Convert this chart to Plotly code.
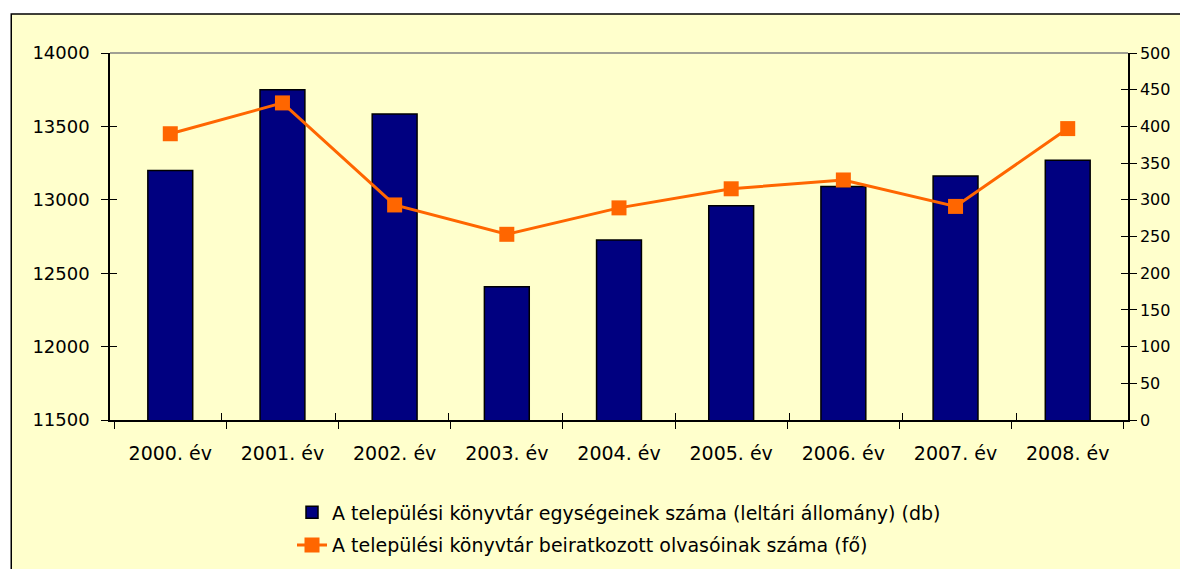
import plotly.graph_objects as go

# data
years = ["2000. év", "2001. év", "2002. év", "2003. év", "2004. év",
         "2005. év", "2006. év", "2007. év", "2008. év"]
stock = [13200, 13750, 13585, 12408, 12726, 12960, 13090, 13162, 13270]
readers = [390, 432, 293, 253, 289, 315, 327, 291, 397]

bar_name = "A települési könyvtár egységeinek száma (leltári állomány) (db)"
line_name = "A települési könyvtár beiratkozott olvasóinak száma (fő)"

bg = "#FFFFCC"
font = dict(family="DejaVu Sans", size=18, color="#000000")

fig = go.Figure()
fig.add_trace(go.Bar(
    x=years, y=stock, name=bar_name, legendgroup="a",
    marker=dict(color="#000080", line=dict(color="#000000", width=1.5)),
))
fig.add_trace(go.Scatter(
    x=years, y=readers, name=line_name, yaxis="y2", legendgroup="b",
    mode="lines+markers",
    line=dict(color="#FF6600", width=3),
    marker=dict(symbol="square", size=15, color="#FF6600"),
))
# invisible helpers so the inner half of the "cross" ticks gets drawn
fig.add_trace(go.Scatter(x=years, y=stock, xaxis="x2", yaxis="y3", mode="markers",
                         marker=dict(opacity=0), showlegend=False, hoverinfo="skip"))
fig.add_trace(go.Scatter(x=years, y=readers, xaxis="x2", yaxis="y4", mode="markers",
                         marker=dict(opacity=0), showlegend=False, hoverinfo="skip"))

axis_common = dict(tickcolor="#000000", ticklen=7, tickwidth=1.2, showgrid=False,
                   zeroline=False, automargin=False)

fig.update_layout(
    width=1188, height=569,
    margin=dict(l=102, r=68, t=45, b=157),
    paper_bgcolor="#FFFFFF", plot_bgcolor="rgba(0,0,0,0)",
    font=font,
    bargap=0.6,
    showlegend=True,
    legend=dict(orientation="v", x=0.5, xanchor="center", y=-0.2, yanchor="top",
                bgcolor="rgba(0,0,0,0)", font=dict(family="DejaVu Sans", size=19),
                tracegroupgap=5),
    xaxis=dict(showline=True, linecolor="#000000", linewidth=1.5,
               ticks="outside", tickson="boundaries", ticklabelstandoff=15,
               tickfont=dict(size=19), **axis_common),
    xaxis2=dict(overlaying="x", anchor="y3", ticks="inside", tickson="boundaries",
                showticklabels=False, showline=False, **axis_common),
    yaxis=dict(range=[11500, 14000], dtick=500, tickformat="d", showline=True,
               linecolor="#000000", linewidth=1.5, ticks="outside",
               ticklabelstandoff=8, **axis_common),
    yaxis2=dict(range=[0, 500], dtick=50, overlaying="y", side="right",
                showline=True, linecolor="#000000", linewidth=1.5,
                ticks="outside", ticklabelstandoff=0, tickfont=dict(size=16),
                **axis_common),
    yaxis3=dict(range=[11500, 14000], dtick=500, overlaying="y", side="left",
                anchor="x2", ticks="inside", showticklabels=False, **axis_common),
    yaxis4=dict(range=[0, 500], dtick=50, overlaying="y", side="right",
                anchor="x2", ticks="inside", showticklabels=False, **axis_common),
    shapes=[
        # yellow chart area with black frame
        dict(type="rect", xref="paper", yref="paper", x0=-0.097, x1=1.2,
             y0=-0.7, y1=1.106, line=dict(color="#000000", width=1.5),
             fillcolor=bg, layer="below"),
        # gray top edge of plot area
        dict(type="line", xref="paper", yref="paper", x0=0, x1=1, y0=1, y1=1,
             line=dict(color="#808080", width=1.5)),
    ],
)

fig.write_html("out.html")
